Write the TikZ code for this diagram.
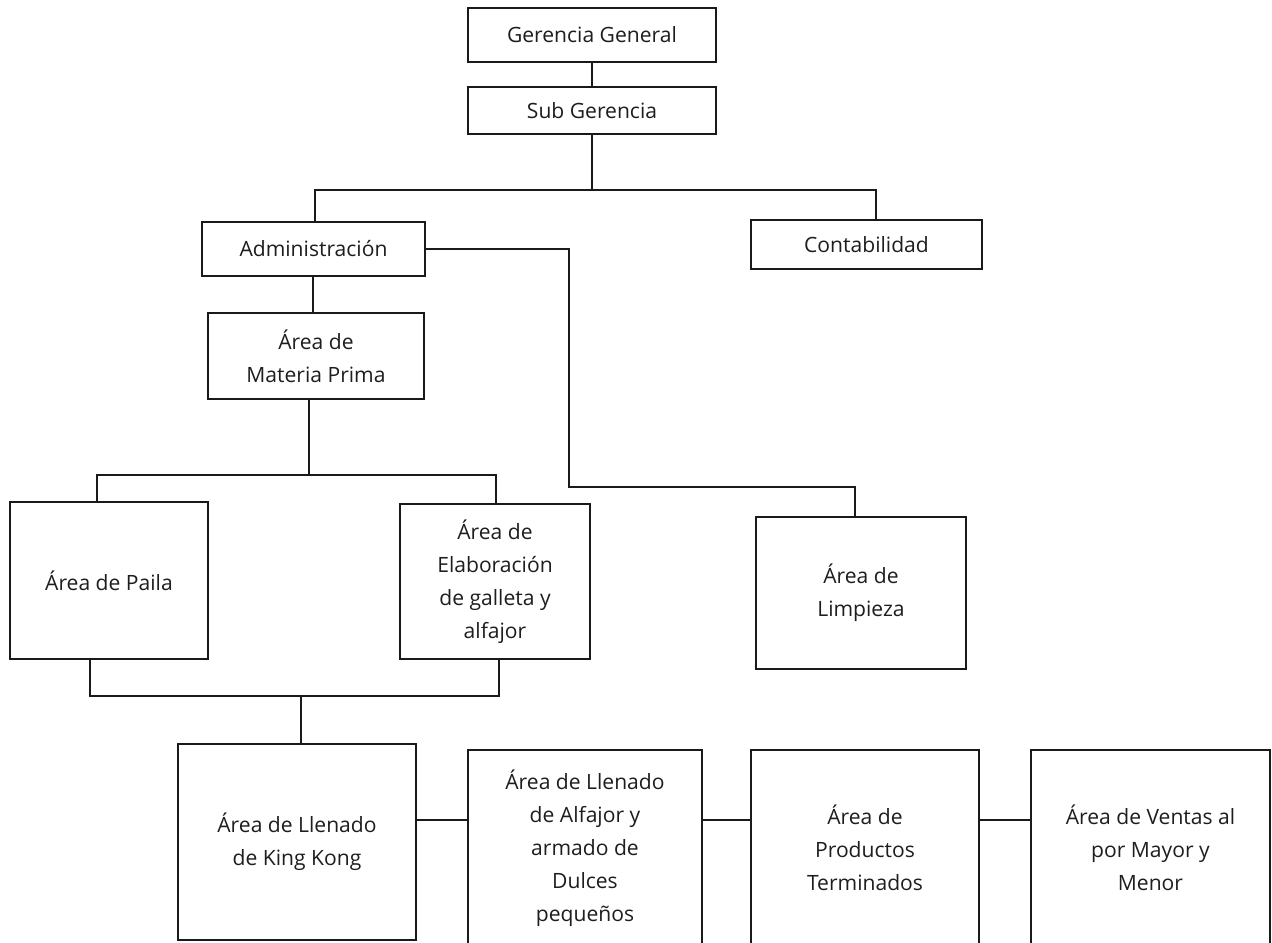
\documentclass[tikz,border=0pt]{standalone}
\usepackage{fontspec}
\setmainfont{Open Sans}
\usepackage{tikz}
\usetikzlibrary{positioning, calc}
\definecolor{linea}{HTML}{1A1A1A}
\definecolor{texto}{HTML}{1E1E1E}
\tikzset{
  caja/.style={draw=linea, line width=1.1pt, align=center, text=texto,
    font=\fontsize{12}{18.7}\selectfont, inner sep=2pt},
  enlace/.style={draw=linea, line width=1.1pt}
}

\begin{document}
\begin{tikzpicture}[x=0.02cm, y=-0.02cm]
\clip (0,0) rectangle (1272,943);
\fill[white] (0,0) rectangle (1272,943);
% Gerencia
\node[caja, minimum width=4.96cm, minimum height=1.08cm] (gg) at (592,35) {Gerencia General};
\node[caja, minimum width=4.96cm, minimum height=0.94cm] (sg) at (592,110.5) {Sub Gerencia};
%
\node[caja, minimum width=4.46cm, minimum height=1.08cm] (admin) at (313.5,249) {Administración};
\node[caja, minimum width=4.62cm, minimum height=0.98cm] (conta) at (866.5,244.5) {Contabilidad};
\node[caja, minimum width=4.32cm, minimum height=1.72cm] (mprima) at (316,356) {Área de\\Materia Prima};
% Areas
\node[caja, minimum width=3.96cm, minimum height=3.14cm] (paila) at (109,580.5) {Área de Paila};
\node[caja, minimum width=3.80cm, minimum height=3.10cm] (elab) at (495,581.5) {Área de\\Elaboración\\de galleta y\\alfajor};
\node[caja, minimum width=4.20cm, minimum height=3.04cm] (limp) at (861,593) {Área de\\Limpieza};
% Fila inferior
\node[caja, minimum width=4.76cm, minimum height=3.92cm] (kk) at (297,842) {Área de Llenado\\de King Kong};
\node[caja, minimum width=4.68cm, minimum height=3.92cm] (llen) at (585,848) {Área de Llenado\\de Alfajor y\\armado de\\Dulces\\pequeños};
\node[caja, minimum width=4.56cm, minimum height=3.92cm] (prod) at (865,848) {Área de\\Productos\\Terminados};
\node[caja, minimum width=4.78cm, minimum height=3.92cm] (ventas) at (1150.5,848) {Área de Ventas al\\por Mayor y\\Menor};
% Conectores
\coordinate (busL) at (315,190);
\coordinate (busR) at (876,190);
\coordinate (adminB) at (313,300);
\coordinate (limpA) at (569,487);
\coordinate (limpB) at (855,517);
\coordinate (pBusL) at (97,475);
\coordinate (pBusM) at (309,475);
\coordinate (pBusR) at (496,475);
\coordinate (qBusL) at (90,696);
\coordinate (qBusM) at (301,696);
\coordinate (qBusR) at (499,696);
\coordinate (fila) at (0,820);
%
\draw[enlace] (gg) -- (sg);
\draw[enlace] (sg.south) -- (sg.south |- busL);
\draw[enlace] (busL |- admin.north) -- (busL) -- (busR) -- (busR |- conta.north);
\draw[enlace] (admin.east) -| (limpA) -| (limpB |- limp.north);
\draw[enlace] (adminB |- admin.south) -- (adminB |- mprima.north);
\draw[enlace] (pBusM |- mprima.south) -- (pBusM);
\draw[enlace] (pBusL |- paila.north) -- (pBusL) -- (pBusR) -- (pBusR |- elab.north);
\draw[enlace] (qBusL |- paila.south) -- (qBusL) -- (qBusR) -- (qBusR |- elab.south);
\draw[enlace] (qBusM) -- (qBusM |- kk.north);
\draw[enlace] (kk.east |- fila) -- (llen.west |- fila);
\draw[enlace] (llen.east |- fila) -- (prod.west |- fila);
\draw[enlace] (prod.east |- fila) -- (ventas.west |- fila);
\end{tikzpicture}
\end{document}
